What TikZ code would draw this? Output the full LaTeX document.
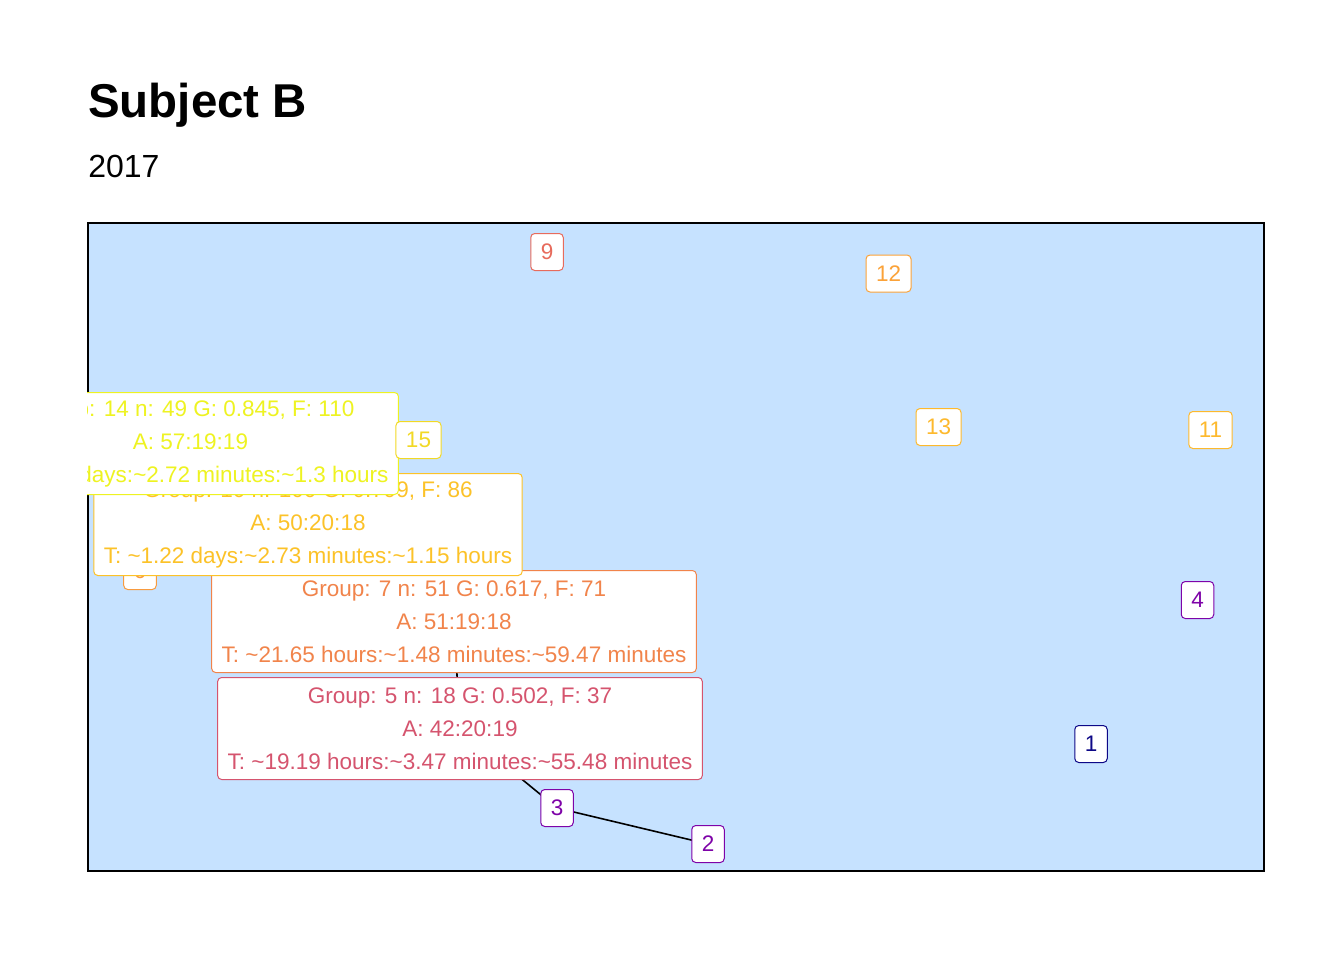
\documentclass[tikz,border=0pt]{standalone}
\usepackage{fontspec}
\setmainfont{Liberation Sans}

\definecolor{panelblue}{HTML}{C6E2FF}
\definecolor{cone}{HTML}{0D0887}
\definecolor{cpurple}{HTML}{7E03A8}
\definecolor{cfive}{HTML}{D5546E}
\definecolor{cseven}{HTML}{F1844B}
\definecolor{csix}{HTML}{F89B3F}
\definecolor{cnine}{HTML}{E76B5C}
\definecolor{ctwelve}{HTML}{FBA238}
\definecolor{celeven}{HTML}{FDB92D}
\definecolor{cten}{HTML}{FCC228}
\definecolor{cfifteen}{HTML}{F2D925}
\definecolor{cfourteen}{HTML}{EEF321}

\newcommand{\lblfont}{\fontsize{16.875}{24.75}\selectfont}

\pgfdeclarelayer{bg}
\pgfsetlayers{bg,main}

\tikzset{
  stopbox/.style={draw=#1, text=#1, fill=white, rounded corners=3pt,
    line width=0.75pt, inner xsep=7.5pt, inner ysep=0pt,
    minimum height=27.75pt, font=\lblfont},
  groupbox/.style={stopbox=#1, align=center, minimum height=76.5pt},
  route/.style={line width=1.2pt, black}
}

\begin{document}
\begin{tikzpicture}[x=0.75pt, y=-0.75pt]
    \useasboundingbox (0,0) rectangle (1344,960);

    % Title
    \node[anchor=base west, inner sep=0pt, font=\fontsize{35.6}{42}\selectfont\bfseries] (title) at (88,117) {Subject B};
    \node[anchor=base west, inner sep=0pt, font=\fontsize{24}{28}\selectfont] (subtitle) at (88,177) {2017};

    % Labels, clipped to the panel
    \begin{scope}
        \clip (87,222) rectangle (1265,872);
        \node[stopbox=cone] (s1) at (1091,744) {1};
        \node[stopbox=cpurple] (s2) at (708,844) {2};
        \node[stopbox=cpurple] (s3) at (557,808) {3};
        \node[stopbox=cpurple] (s4) at (1197.5,600) {4};
        \node[groupbox=cfive] (g5) at (460,728.5) {Group: 5 n: 18 G: 0.502, F: 37\\A: 42:20:19\\T: \textasciitilde19.19 hours:\textasciitilde3.47 minutes:\textasciitilde55.48 minutes};
        \node[stopbox=csix] (s6) at (140,571) {6};
        \node[groupbox=cseven] (g7) at (454,621.5) {Group: 7 n: 51 G: 0.617, F: 71\\A: 51:19:18\\T: \textasciitilde21.65 hours:\textasciitilde1.48 minutes:\textasciitilde59.47 minutes};
        \node[stopbox=cnine] (s9) at (547,252) {9};
        \node[groupbox=cten] (g10) at (308,524.5) {Group: 10 n: 100 G: 0.799, F: 86\\A: 50:20:18\\T: \textasciitilde1.22 days:\textasciitilde2.73 minutes:\textasciitilde1.15 hours};
        \node[stopbox=celeven] (s11) at (1210.5,430) {11};
        \node[stopbox=ctwelve] (s12) at (888.5,273.5) {12};
        \node[stopbox=celeven] (s13) at (938.5,427) {13};
        \node[groupbox=cfourteen] (g14) at (190.5,443.5) {Group: 14 n: 49 G: 0.845, F: 110\\A: 57:19:19\\T: \textasciitilde1.21 days:\textasciitilde2.72 minutes:\textasciitilde1.3 hours};
        \node[stopbox=cfifteen] (s15) at (418.5,440) {15};
    \end{scope}

    % Panel and route behind the labels
    \begin{pgfonlayer}{bg}
        \draw[fill=panelblue, line width=1.2pt] (88,223) rectangle (1264,871);
        \draw[route] (g7.center) -- (g5.center) -- (s3.center) -- (s2.center);
    \end{pgfonlayer}
\end{tikzpicture}
\end{document}
